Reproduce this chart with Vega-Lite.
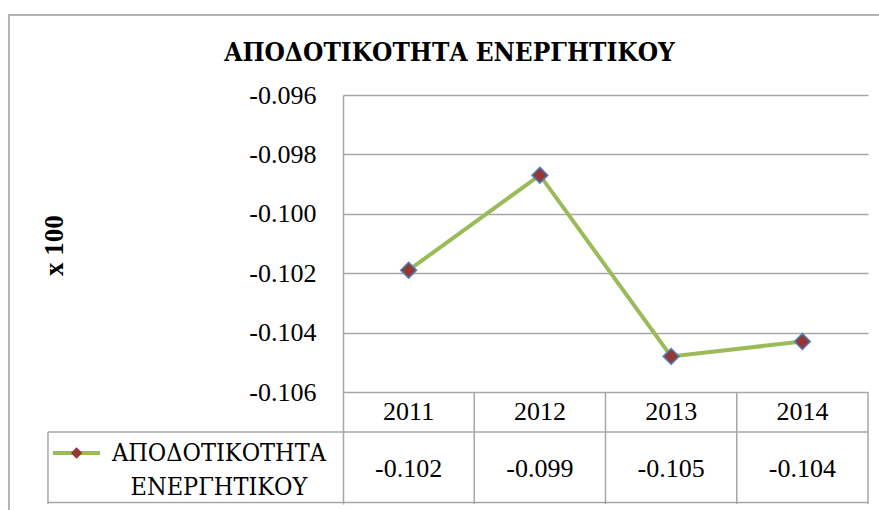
{
  "$schema": "https://vega.github.io/schema/vega-lite/v6.json",
  "width": 525,
  "height": 409,
  "autosize": {"type": "none"},
  "padding": {"left": 343, "top": 95, "right": 11, "bottom": 6},
  "background": "white",
  "title": {
    "text": "ΑΠΟΔΟΤΙΚΟΤΗΤΑ  ΕΝΕΡΓΗΤΙΚΟΥ",
    "font": "DejaVu Serif Condensed, DejaVu Serif",
    "fontSize": 26,
    "fontWeight": "bold",
    "color": "black",
    "anchor": "middle",
    "frame": "group",
    "dx": -156,
    "offset": -73,
    "baseline": "alphabetic"
  },
  "config": {
    "view": {"stroke": null},
    "locale": {"number": {"decimal": ".", "thousands": ",", "grouping": [3], "currency": ["$", ""], "minus": "-"}},
    "text": {"font": "Liberation Serif", "fontSize": 26, "color": "black"}
  },
  "data": {
    "values": [
      {"year": 2011, "value": -0.1019},
      {"year": 2012, "value": -0.0987},
      {"year": 2013, "value": -0.1048},
      {"year": 2014, "value": -0.1043}
    ]
  },
  "layer": [
    {
      "mark": {"type": "line", "stroke": "#9BBB59", "strokeWidth": 4},
      "encoding": {
        "x": {"field": "year", "type": "quantitative", "scale": {"domain": [2010.5, 2014.5], "nice": false, "zero": false}, "axis": null},
        "y": {
          "field": "value",
          "type": "quantitative",
          "scale": {"domain": [-0.10977, -0.096], "nice": false, "zero": false},
          "axis": {
            "values": [-0.106, -0.104, -0.102, -0.1, -0.098, -0.096],
            "format": ".3f",
            "labelFont": "Liberation Serif",
            "labelFontSize": 26,
            "labelColor": "black",
            "labelPadding": 27,
            "labelFlush": false,
            "labelBound": false,
            "labelOverlap": false,
            "ticks": false,
            "domainColor": "#a6a6a6",
            "domainWidth": 1.5,
            "grid": true,
            "gridColor": "#a6a6a6",
            "gridWidth": 1.5,
            "title": "x 100",
            "titleFont": "Liberation Serif",
            "titleFontSize": 27,
            "titleFontWeight": "bold",
            "titleColor": "black",
            "titleAngle": 270,
            "titleAlign": "center",
            "titleBaseline": "middle",
            "titleX": -289,
            "titleY": 150
          }
        }
      }
    },
    {
      "data": {"values": [{}]},
      "mark": {"type": "rect", "fill": "white", "fillOpacity": 0, "stroke": "#b3b3b3", "strokeWidth": 2},
      "encoding": {
        "x": {"datum": 2007.955, "type": "quantitative"},
        "x2": {"datum": 2016.5},
        "y": {"datum": -0.093306, "type": "quantitative"},
        "y2": {"datum": -0.1125}
      }
    },
    {
      "mark": {"type": "rule", "stroke": "#a6a6a6", "strokeWidth": 1.5, "xOffset": 65.625},
      "encoding": {
        "x": {"field": "year", "type": "quantitative"},
        "y": {"datum": -0.106, "type": "quantitative"},
        "y2": {"datum": -0.10977}
      }
    },
    {
      "data": {"values": [{}]},
      "mark": {"type": "rule", "stroke": "#a6a6a6", "strokeWidth": 1.5},
      "encoding": {
        "x": {"datum": 2008.252, "type": "quantitative"},
        "x2": {"datum": 2014.5},
        "y": {"datum": -0.107347, "type": "quantitative"}
      }
    },
    {
      "data": {"values": [{}]},
      "mark": {"type": "rule", "stroke": "#a6a6a6", "strokeWidth": 1.5},
      "encoding": {
        "x": {"datum": 2008.252, "type": "quantitative"},
        "x2": {"datum": 2014.5},
        "y": {"datum": -0.10972, "type": "quantitative"}
      }
    },
    {
      "data": {"values": [{}]},
      "mark": {"type": "rule", "stroke": "#a6a6a6", "strokeWidth": 1.5},
      "encoding": {
        "x": {"datum": 2008.252, "type": "quantitative"},
        "y": {"datum": -0.107347, "type": "quantitative"},
        "y2": {"datum": -0.10977}
      }
    },
    {
      "mark": {"type": "point", "shape": "diamond", "size": 250, "filled": true, "fill": "#953735", "stroke": "#4F81BD", "strokeWidth": 1.5, "opacity": 1},
      "encoding": {
        "x": {"field": "year", "type": "quantitative"},
        "y": {"field": "value", "type": "quantitative"}
      }
    },
    {
      "mark": {"type": "text", "align": "center", "baseline": "middle"},
      "encoding": {
        "x": {"field": "year", "type": "quantitative"},
        "y": {"datum": -0.10667, "type": "quantitative"},
        "text": {"field": "year", "type": "nominal"}
      }
    },
    {
      "mark": {"type": "text", "align": "center", "baseline": "middle"},
      "encoding": {
        "x": {"field": "year", "type": "quantitative"},
        "y": {"datum": -0.10858, "type": "quantitative"},
        "text": {"field": "value", "type": "quantitative", "format": ".3f"}
      }
    },
    {
      "data": {"values": [{}]},
      "mark": {"type": "rule", "stroke": "#9BBB59", "strokeWidth": 4},
      "encoding": {
        "x": {"datum": 2008.29, "type": "quantitative"},
        "x2": {"datum": 2008.649},
        "y": {"datum": -0.108054, "type": "quantitative"}
      }
    },
    {
      "data": {"values": [{}]},
      "mark": {"type": "point", "shape": "diamond", "size": 130, "filled": true, "fill": "#953735", "opacity": 1},
      "encoding": {
        "x": {"datum": 2008.47, "type": "quantitative"},
        "y": {"datum": -0.108054, "type": "quantitative"}
      }
    },
    {
      "data": {"values": [{}]},
      "mark": {"type": "text", "align": "center", "baseline": "middle", "lineHeight": 34, "font": "DejaVu Serif Condensed, DejaVu Serif", "fontSize": 25, "text": ["ΑΠΟΔΟΤΙΚΟΤΗΤΑ", "ΕΝΕΡΓΗΤΙΚΟΥ"]},
      "encoding": {
        "x": {"datum": 2009.555, "type": "quantitative"},
        "y": {"datum": -0.108054, "type": "quantitative"}
      }
    }
  ]
}
